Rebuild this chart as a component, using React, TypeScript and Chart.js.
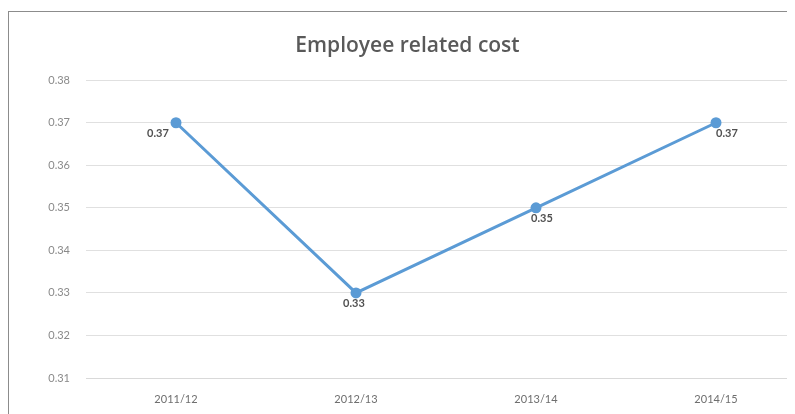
import React, { useEffect, useRef } from "react";
import { Chart, registerables } from "chart.js";

Chart.register(...registerables);

const categories = ["2011/12", "2012/13", "2013/14", "2014/15"];
const values = [0.37, 0.33, 0.35, 0.37];
const yMin = 0.31;
const yMax = 0.38;
const yStep = 0.01;
const titleText = "Employee related cost";

const labelPlugin = {
  id: "valueLabels",
  afterDatasetsDraw(chart: any) {
    const ctx = chart.ctx;
    const meta = chart.getDatasetMeta(0);
    const shifts = [-18, -2, 6, 11];
    ctx.save();
    ctx.font = "bold 11px Lato, 'Open Sans', sans-serif";
    ctx.fillStyle = "#505050";
    ctx.textAlign = "center";
    ctx.textBaseline = "middle";
    meta.data.forEach((pt: any, i: number) => {
      const v = chart.data.datasets[0].data[i];
      ctx.fillText(Number(v).toFixed(2), pt.x + shifts[i % shifts.length], pt.y + 11);
    });
    ctx.restore();
  },
};

export default function App() {
  const ref = useRef<HTMLCanvasElement | null>(null);
  useEffect(() => {
    document.body.style.overflow = "hidden";
    if (!ref.current) return;
    const chart = new Chart(ref.current, {
      type: "line",
      data: {
        labels: categories,
        datasets: [
          {
            data: values,
            borderColor: "#5B9BD5",
            backgroundColor: "#5B9BD5",
            borderWidth: 3,
            pointRadius: 4,
            pointBackgroundColor: "#5B9BD5",
            pointBorderColor: "#5B9BD5",
            tension: 0,
          },
        ],
      },
      options: {
        animation: false,
        responsive: false,
        maintainAspectRatio: false,
        layout: { padding: { left: 0, right: 31, top: 0, bottom: 22 } },
        plugins: {
          legend: { display: false },
          tooltip: { enabled: false },
          title: {
            display: true,
            text: titleText,
            color: "#595959",
            font: { family: "'Open Sans', Lato, sans-serif", size: 21, weight: "600" },
            padding: { top: 21, bottom: 22 },
          },
        },
        scales: {
          x: {
            offset: true,
            grid: { display: false, drawTicks: false },
            border: { display: true, color: "#d9d9d9" },
            ticks: {
              color: "#6e6e6e",
              font: { family: "Lato, 'Open Sans', sans-serif", size: 11 },
              padding: 15,
              maxRotation: 0,
            },
            afterFit(scale: any) {
              scale.height = 30;
            },
          },
          y: {
            min: yMin,
            max: yMax,
            grid: { color: "#e0e0e0", drawTicks: false, lineWidth: 1 },
            border: { display: false },
            ticks: {
              stepSize: yStep,
              color: "#8a8a8a",
              font: { family: "Lato, 'Open Sans', sans-serif", size: 11 },
              padding: 16,
              callback: (v: any) => Number(v).toFixed(2),
            },
            afterFit(scale: any) {
              scale.width = 77;
            },
          },
        },
      },
      plugins: [labelPlugin],
    });
    return () => chart.destroy();
  }, []);
  return (
    <div
      style={{
        marginTop: 3,
        width: 830,
        height: 420,
        border: "1px solid #8c8c8c",
        boxSizing: "border-box",
        background: "#fff",
      }}
    >
      <canvas ref={ref} width={828} height={418} style={{ display: "block" }} />
    </div>
  );
}
